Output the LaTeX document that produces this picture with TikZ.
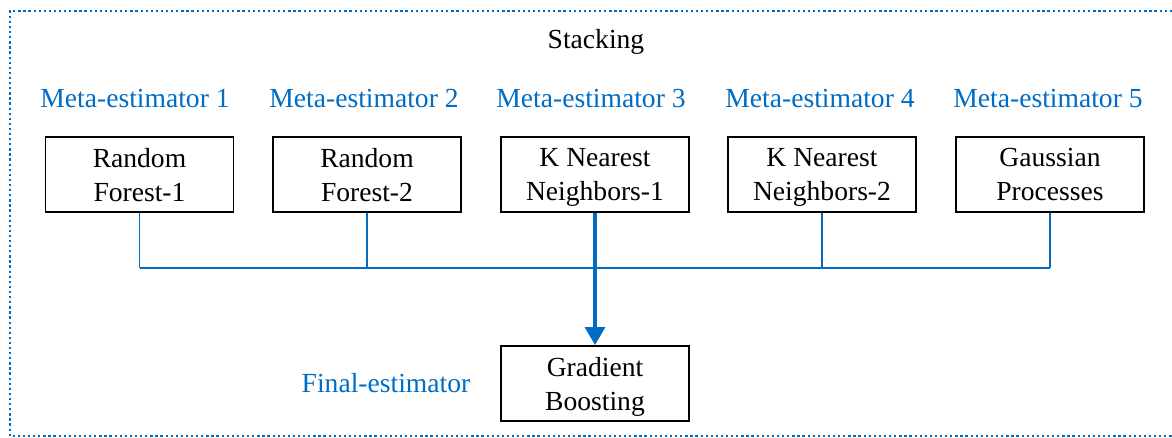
\documentclass[tikz,border=0pt]{standalone}
\usepackage{fontspec}
\setmainfont{Liberation Serif}
\usetikzlibrary{positioning}
\usetikzlibrary{arrows.meta}
\definecolor{stackblue}{RGB}{0,108,196}

\begin{document}
\begin{tikzpicture}[
    x=0.02cm, y=-0.02cm,
    font=\fontsize{15.7}{19.3}\selectfont,
    model/.style={
      draw=black,
      line width=1.1pt,
      minimum width=3.76cm,
      minimum height=1.5cm,
      inner sep=2pt,
      align=center,
      text depth=0pt
    },
    metalabel/.style={text=stackblue},
    link/.style={draw=stackblue, line width=0.9pt},
    feed/.style={
      draw=stackblue,
      line width=1.8pt,
      -{Triangle[width=0.4cm, length=0.36cm]}
    },
    frame/.style={
      draw=stackblue,
      line width=1.5pt,
      dash pattern=on 1.3pt off 1.6pt
    }
  ]
  \useasboundingbox (0,0) rectangle (1172,437);

  % dotted frame, open to the right
  \draw[frame] (1172,11) -- (10,11) -- (10,436) -- (1172,436);

  \node (title) at (596,42) {Stacking};

  % meta-estimators
  \node[metalabel] (meta1) at (135,98) {Meta-estimator 1};
  \node[metalabel] (meta2) at (364,98) {Meta-estimator 2};
  \node[metalabel] (meta3) at (591,98) {Meta-estimator 3};
  \node[metalabel] (meta4) at (820,98) {Meta-estimator 4};
  \node[metalabel] (meta5) at (1048,98) {Meta-estimator 5};

  \node[model] (rf1) at (139.5,174.5) {Random\\Forest-1};
  \node[model] (rf2) at (367,174.5) {Random\\Forest-2};
  \node[model] (knn1) at (595,174.5) {K Nearest\\Neighbors-1};
  \node[model] (knn2) at (822,174.5) {K Nearest\\Neighbors-2};
  \node[model] (gp) at (1050,174.5) {Gaussian\\Processes};

  % final estimator
  \node[metalabel] (final) at (386,383) {Final-estimator};
  \node[model] (gb) at (595,383.5) {Gradient\\Boosting};

  % connectors
  \coordinate (bus) at (595,268);
  \draw[link] (rf1.south) -- (rf1.south |- bus);
  \draw[link] (rf2.south) -- (rf2.south |- bus);
  \draw[link] (knn2.south) -- (knn2.south |- bus);
  \draw[link] (gp.south) -- (gp.south |- bus);
  \draw[link] (rf1.south |- bus) -- (gp.south |- bus);
  \draw[feed] (knn1.south) -- (gb.north);
\end{tikzpicture}
\end{document}
